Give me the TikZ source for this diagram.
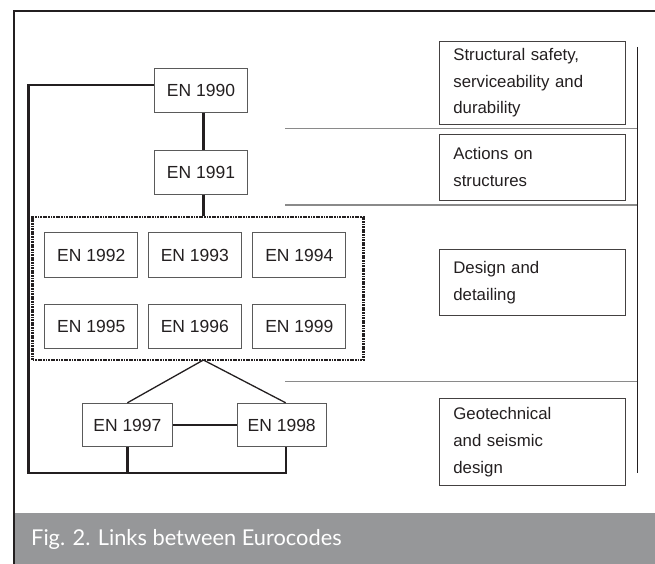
\documentclass[tikz,border=0pt]{standalone}
\usepackage{fontspec}
\setmainfont{Liberation Sans}
\newfontfamily\capfont{Lato}
\definecolor{ink}{HTML}{231F20}
\definecolor{band}{RGB}{150,151,153}
\definecolor{boxline}{HTML}{5A5A5A}
\definecolor{sepline}{HTML}{8A8A8A}
\begin{document}
\begin{tikzpicture}[x=1pt,y=-1pt,
  enbox/.style={draw=boxline, line width=0.9pt, fill=white, minimum width=93pt, minimum height=43.5pt, inner sep=0pt, font=\fontsize{17.5}{20}\selectfont, text=ink},
  infobox/.style={draw=ink!85, line width=0.9pt, minimum width=186pt, text width=158pt, inner xsep=14pt, inner ysep=0pt, align=left, font=\fontsize{16.8}{26.7}\selectfont, text=ink},
  conn/.style={draw=ink, line width=2.3pt},
  thin conn/.style={draw=ink, line width=1.3pt},
  sep/.style={draw=sepline, line width=1.5pt},
  dotbox/.style={draw=ink, line width=2.4pt, dash pattern=on 1.8pt off 0.8pt, inner sep=0pt}
]
\useasboundingbox (0,0) rectangle (655,564);
\clip (0,0) rectangle (655,564);
% frame and caption band
\fill[band] (14,513) rectangle (660,570);
\draw[ink, line width=2.2pt] (14,570) -- (14,11) -- (660,11);
\node[anchor=base west, text=white, inner sep=0pt, font=\capfont\fontsize{21.8}{24}\selectfont] (cap) at (31,545) {Fig. 2. Links between Eurocodes};

% group box
\node[dotbox, minimum width=330.8pt, minimum height=143.3pt] (grp) at (198,288.35) {};

% EN boxes
\node[enbox] (n1990) at (201,90.5) {EN 1990};
\node[enbox] (n1991) at (201,172.5) {EN 1991};
\node[enbox, minimum height=44.6pt] (n1992) at (91.25,255) {EN 1992};
\node[enbox, minimum height=44.6pt] (n1993) at (194.85,255) {EN 1993};
\node[enbox, minimum height=44.6pt] (n1994) at (299.3,255) {EN 1994};
\node[enbox, minimum height=44pt] (n1995) at (91.25,326.3) {EN 1995};
\node[enbox, minimum height=44pt] (n1996) at (194.85,326.3) {EN 1996};
\node[enbox, minimum height=44pt] (n1999) at (299.3,326.3) {EN 1999};
\node[enbox, minimum width=89.5pt] (n1997) at (127.4,425) {EN 1997};
\node[enbox, minimum width=89.5pt] (n1998) at (281.7,425) {EN 1998};

% info boxes
\node[infobox, minimum height=82.3pt] (i1) at (532.35,82.85) {Structural safety,\\serviceability and\\durability};
\node[infobox, minimum height=65.7pt] (i2) at (532.35,167.15) {Actions on\\structures};
\node[infobox, minimum height=66.4pt] (i3) at (532.35,282.5) {Design and\\detailing};
\node[infobox, minimum height=87.4pt] (i4) at (532.35,442) {Geotechnical\\and seismic\\design};

% separators
\coordinate (sa) at (285,128.3);
\coordinate (sb) at (285,205);
\coordinate (sc) at (285,381.7);
\coordinate (vr) at (637,47);
\coordinate (vrb) at (637,473);
\draw[sep] (sa) -- (sa -| vr);
\draw[sep] (sb) -- (sb -| vr);
\draw[sep] (sc) -- (sc -| vr);
\draw[ink, line width=1pt] (vr) -- (vrb);

% connectors
\coordinate (col) at (203.4,0);
\coordinate (lt) at (28.4,85);
\coordinate (lb) at (28.4,473);
\coordinate (apex) at (203.4,360);
\draw[conn] (n1990.south -| col) -- (n1991.north -| col);
\draw[conn] (n1991.south -| col) -- (grp.north -| col);
\draw[conn] (n1990.west |- lt) -- (lt) -- (lb) -- ([xshift=4pt]n1998.south |- lb) -- ([xshift=4pt]n1998.south);
\draw[conn] (n1997.south) -- (n1997.south |- lb);
\draw[conn] (n1997.east) -- (n1998.west);
\draw[thin conn] (n1997.north) -- (apex) -- ([xshift=4pt]n1998.north);
\end{tikzpicture}
\end{document}
